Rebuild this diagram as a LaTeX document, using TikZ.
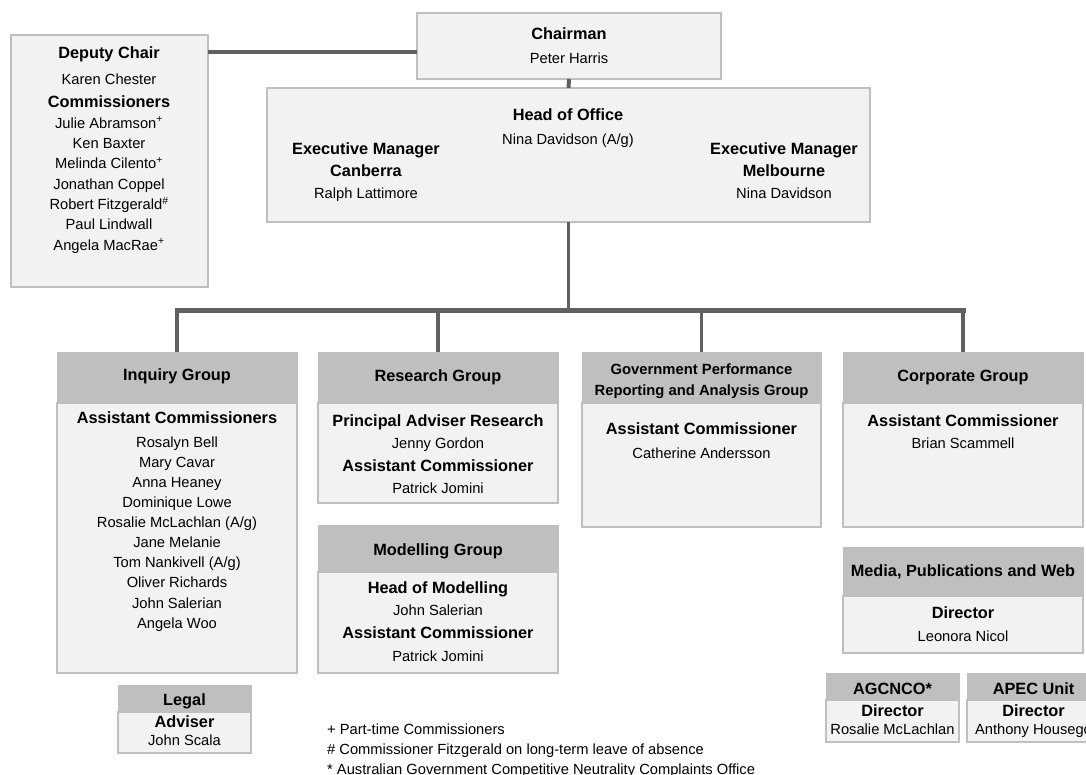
\documentclass[tikz,border=0pt]{standalone}
\usepackage{fontspec}
\setmainfont{Liberation Sans}
\definecolor{boxfill}{HTML}{F2F2F2}
\definecolor{boxline}{HTML}{BFBFBF}
\definecolor{hdrfill}{HTML}{BFBFBF}
\definecolor{conncol}{HTML}{606060}
\tikzset{
  frame/.style={draw=boxline, fill=boxfill, line width=2pt, inner sep=0pt, outer sep=0pt, anchor=north west},
  hframe/.style={draw=hdrfill, fill=hdrfill, line width=1pt, inner sep=0pt, outer sep=0pt, anchor=north west},
  bt/.style={font=\fontsize{16.3}{19}\bfseries\selectfont, inner sep=0pt, anchor=base, yshift=-5.8pt},
  st/.style={font=\fontsize{14.8}{17}\bfseries\selectfont, inner sep=0pt, anchor=base, yshift=-5.2pt},
  rt/.style={font=\fontsize{14.7}{17}\selectfont, inner sep=0pt, anchor=base, yshift=-5.2pt},
  fn/.style={font=\fontsize{14.7}{17}\selectfont, inner sep=0pt, anchor=base west, yshift=-5.2pt},
  conn/.style={draw=conncol, line width=4pt},
}
\begin{document}
\begin{tikzpicture}[x=1pt,y=-1pt]
\useasboundingbox (0,0) rectangle (1086,774);
\fill[white] (0,0) rectangle (1086,774);

% ---- boxes ----
\node[frame, minimum width=197pt, minimum height=252pt] (dep) at (11,35) {};
\node[frame, minimum width=304pt, minimum height=66pt] (chair) at (417,13) {};
\node[frame, minimum width=603pt, minimum height=134pt] (head) at (267,88) {};

\node[hframe, minimum width=240pt, minimum height=321pt] (inq) at (57,352) {};
\node[frame, minimum width=240pt, minimum height=270pt] (inqB) at (57,403) {};

\node[hframe, minimum width=240pt, minimum height=151pt] (res) at (318,352) {};
\node[frame, minimum width=240pt, minimum height=100pt] (resB) at (318,403) {};

\node[hframe, minimum width=240pt, minimum height=148pt] (mod) at (318,525) {};
\node[frame, minimum width=240pt, minimum height=101pt] (modB) at (318,572) {};

\node[hframe, minimum width=239pt, minimum height=175pt] (gov) at (582,352) {};
\node[frame, minimum width=239pt, minimum height=124pt] (govB) at (582,403) {};

\node[hframe, minimum width=240pt, minimum height=175pt] (corp) at (843,352) {};
\node[frame, minimum width=240pt, minimum height=124pt] (corpB) at (843,403) {};

\node[hframe, minimum width=240pt, minimum height=106pt] (media) at (843,547) {};
\node[frame, minimum width=240pt, minimum height=57pt] (mediaB) at (843,596) {};

\node[hframe, minimum width=133pt, minimum height=68pt] (legal) at (118,685) {};
\node[frame, minimum width=133pt, minimum height=41pt] (legalB) at (118,712) {};

\node[hframe, minimum width=133pt, minimum height=69pt] (agc) at (826,673) {};
\node[frame, minimum width=133pt, minimum height=42pt] (agcB) at (826,700) {};

\node[hframe, minimum width=133pt, minimum height=69pt] (apec) at (967,673) {};
\node[frame, minimum width=133pt, minimum height=42pt] (apecB) at (967,700) {};

% ---- connectors ----
\coordinate (dl) at (0,52);
\coordinate (busY) at (0,310);
\draw[conn, line width=4.5pt] (dep.east |- dl) -- (chair.west |- dl);
\draw[conn] (chair.south) -- (head.north);
\draw[conn, line width=3.5pt] (head.south) -- (head.south |- busY);
\draw[conn, line width=5pt, line cap=rect] (inq.north |- busY) -- (corp.north |- busY);
\foreach \n in {inq,res,gov,corp}
  \draw[conn, line width=3.5pt] (\n.north |- busY) -- (\n.north);

% ---- Deputy Chair / Commissioners ----
\node[bt] (dep1) at (109,53) {Deputy Chair};
\node[rt] (dep2) at (109,79) {Karen Chester};
\node[bt] (dep3) at (109,102) {Commissioners};
\foreach \t [count=\i] in {{Julie Abramson\textsuperscript{+}},{Ken Baxter},{Melinda Cilento\textsuperscript{+}},{Jonathan Coppel},{Robert Fitzgerald\textsuperscript{\#}},{Paul Lindwall},{Angela MacRae\textsuperscript{+}}}
  \node[rt] (com\i) at (109,{102.7+20.3*\i}) {\t};

% ---- Chairman ----
\node[bt] (ch1) at (569,34) {Chairman};
\node[rt] (ch2) at (569,58) {Peter Harris};

% ---- Head of Office ----
\node[bt] (ho1) at (568,115) {Head of Office};
\node[rt] (ho2) at (568,139) {Nina Davidson (A/g)};
\node[bt] (ec1) at (366,149) {Executive Manager};
\node[bt] (ec2) at (366,171) {Canberra};
\node[rt] (ec3) at (366,193) {Ralph Lattimore};
\node[bt] (em1) at (784,149) {Executive Manager};
\node[bt] (em2) at (784,171) {Melbourne};
\node[rt] (em3) at (784,193) {Nina Davidson};

% ---- Inquiry Group ----
\node[bt] (iq1) at (177,375) {Inquiry Group};
\node[bt] (iq2) at (177,418) {Assistant Commissioners};
\foreach \t [count=\i] in {Rosalyn Bell,Mary Cavar,Anna Heaney,Dominique Lowe,Rosalie McLachlan (A/g),Jane Melanie,Tom Nankivell (A/g),Oliver Richards,John Salerian,Angela Woo}
  \node[rt] (ac\i) at (177,{421.9+20.1*\i}) {\t};

% ---- Research Group ----
\node[bt] (rs1) at (438,376) {Research Group};
\node[bt] (rs2) at (438,421) {Principal Adviser Research};
\node[rt] (rs3) at (438,443) {Jenny Gordon};
\node[bt] (rs4) at (438,466) {Assistant Commissioner};
\node[rt] (rs5) at (438,488) {Patrick Jomini};

% ---- Modelling Group ----
\node[bt] (md1) at (438,550) {Modelling Group};
\node[bt] (md2) at (438,588) {Head of Modelling};
\node[rt] (md3) at (438,610) {John Salerian};
\node[bt] (md4) at (438,633) {Assistant Commissioner};
\node[rt] (md5) at (438,656) {Patrick Jomini};

% ---- Government Performance ----
\node[st] (gv1) at (701.5,369) {Government Performance};
\node[st] (gv2) at (701.5,390) {Reporting and Analysis Group};
\node[bt] (gv3) at (701.5,429) {Assistant Commissioner};
\node[rt] (gv4) at (701.5,453) {Catherine Andersson};

% ---- Corporate Group ----
\node[bt] (cp1) at (963,376) {Corporate Group};
\node[bt] (cp2) at (963,421) {Assistant Commissioner};
\node[rt] (cp3) at (963,443) {Brian Scammell};

% ---- Media ----
\node[bt] (me1) at (963,571) {Media, Publications and Web};
\node[bt] (me2) at (963,613) {Director};
\node[rt] (me3) at (963,636) {Leonora Nicol};

% ---- Legal ----
\node[bt] (lg1) at (184.5,700) {Legal};
\node[bt] (lg2) at (184.5,722) {Adviser};
\node[rt] (lg3) at (184.5,740) {John Scala};

% ---- AGCNCO ----
\node[bt] (ag1) at (892.5,689) {AGCNCO*};
\node[bt] (ag2) at (892.5,711) {Director};
\node[rt] (ag3) at (892.5,729) {Rosalie McLachlan};

% ---- APEC ----
\node[bt] (ap1) at (1033.5,689) {APEC Unit};
\node[bt] (ap2) at (1033.5,711) {Director};
\node[rt] (ap3) at (1033.5,729) {Anthony Housego};

% ---- footnotes ----
\node[fn] (fn1) at (327,729) {+ Part-time Commissioners};
\node[fn] (fn2) at (327,749) {\# Commissioner Fitzgerald on long-term leave of absence};
\node[fn] (fn3) at (327,769) {* Australian Government Competitive Neutrality Complaints Office};
\end{tikzpicture}
\end{document}
